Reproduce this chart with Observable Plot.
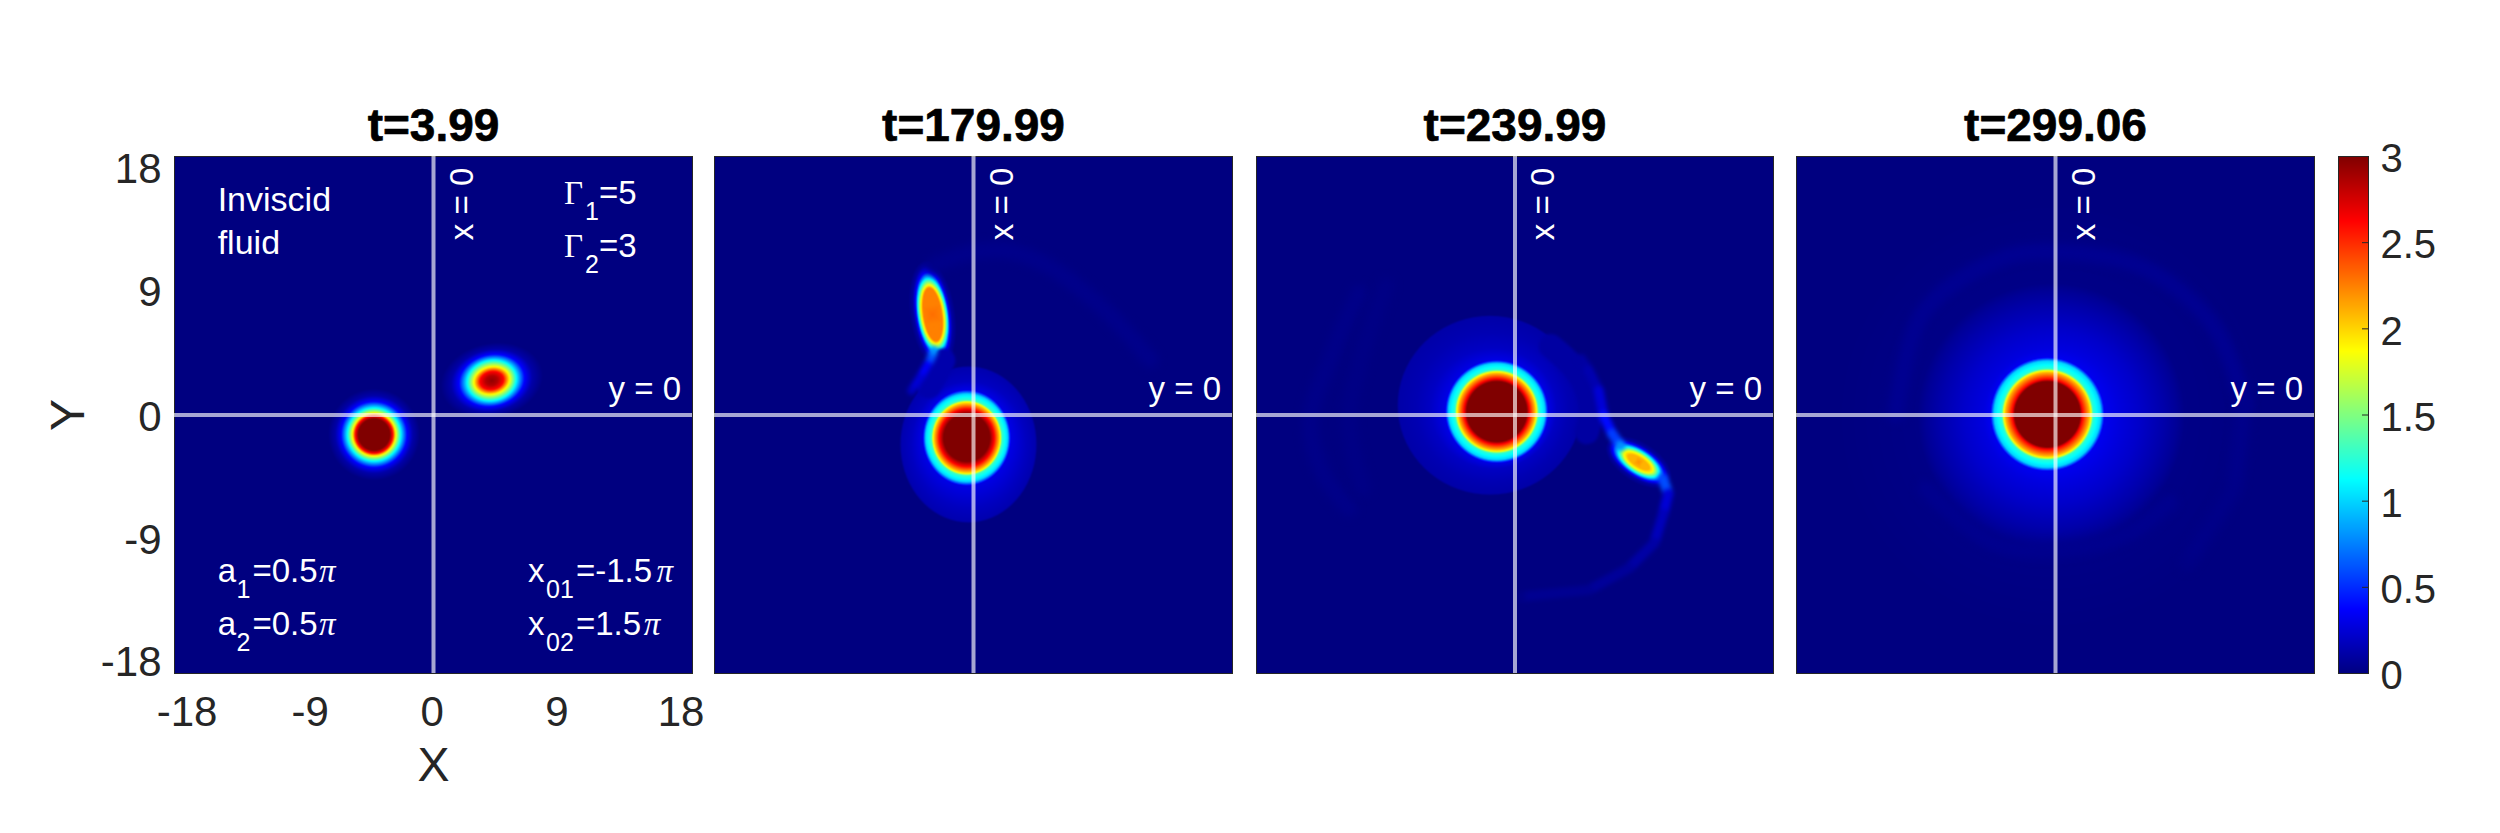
<!DOCTYPE html>
<html><head><meta charset="utf-8">
<script src="https://cdn.jsdelivr.net/npm/d3@7"></script>
<script src="https://cdn.jsdelivr.net/npm/@observablehq/plot@0.6"></script>
<style>
html,body{margin:0;padding:0;background:#fff;width:2500px;height:833px;overflow:hidden}
#stage{position:relative;width:2500px;height:833px}
#stage svg{position:absolute;top:0;overflow:visible;background:transparent}
</style></head><body><div id="stage"></div>
<script>
// colour map stops (value -> jet colour)
const jetValues = [0, 0.375, 1.125, 1.875, 2.625, 3];
const jetColors = ["#000080", "#0000ff", "#00ffff", "#ffff00", "#ff0000", "#800000"];
const titles = ["t=3.99", "t=179.99", "t=239.99", "t=299.06"];

// iso-value rings: [centreX, centreY, radiusA, radiusB, tiltDeg, value]
const rings1 = [
  [-4.13,-1.36,0,0,0,3],[-4.13,-1.36,1.09,1.09,0,3],[-4.13,-1.36,1.3,1.3,0,2.62],[-4.13,-1.36,1.5,1.5,0,1.875],
  [-4.13,-1.36,1.85,1.85,0,1.125],[-4.13,-1.36,2.3,2.3,0,.375],[-4.13,-1.36,2.7,2.7,0,.12],[-4.13,-1.36,3.2,3.2,0,0],
  [4.05,2.4,0,0,12,2.95],[4.05,2.4,.42,.33,12,2.85],[4.05,2.4,.82,.62,12,2.62],[4.05,2.4,1.25,.95,12,1.875],
  [4.05,2.4,1.72,1.4,12,1.125],[4.05,2.4,2.3,1.8,12,.375],[4.05,2.4,2.85,2.15,12,.12],[4.05,2.4,3.6,2.6,12,0]
];
const rings2 = [
  [-.47,-1.59,0,0,0,3],[-.47,-1.59,1.6,1.65,0,3],[-.47,-1.59,1.91,2,0,2.62],[-.47,-1.59,2.22,2.36,0,2.1],
  [-.47,-1.59,2.34,2.5,0,1.875],[-.47,-1.59,2.45,2.62,0,1.3],[-.47,-1.59,2.85,3.05,0,1],[-.47,-1.59,3,3.27,0,.5],[-.47,-1.59,3.06,3.33,0,.3],
  [-.35,-2.05,4,4.4,0,.19],[-.35,-2.05,4.65,5.35,0,.14],[-.35,-2.05,4.8,5.5,0,0],
  [-2.84,7,0,0,-82,2.3],[-2.84,7,1.85,.62,-82,2.25],[-2.84,7,2.05,.78,-82,1.875],[-2.84,7,2.5,.98,-82,1.125],
  [-2.84,7,2.95,1.12,-82,.375],[-2.84,7,3.4,1.3,-82,.1],[-2.84,7,3.8,1.6,-82,0]
];
const rings3 = [
  [-1.27,.235,0,0,0,3],[-1.27,.235,2.09,2.09,0,3],[-1.27,.235,2.28,2.28,0,2.62],[-1.27,.235,2.65,2.65,0,2.1],
  [-1.27,.235,2.77,2.77,0,1.875],[-1.27,.235,2.92,2.92,0,1.25],[-1.27,.235,3.35,3.35,0,1],[-1.27,.235,3.52,3.52,0,.5],[-1.27,.235,3.58,3.58,0,.3],
  [-1.5,.45,4.4,4.2,0,.2],[-1.6,.55,5.3,5.2,0,.15],[-1.74,.68,6.35,6.15,0,.12],[-1.74,.68,6.5,6.3,0,0],
  [8.61,-3.28,0,0,-33,2.2],[8.61,-3.28,.85,.3,-33,2.1],[8.61,-3.28,1.15,.48,-33,1.875],[8.61,-3.28,1.6,.72,-33,1.125],
  [8.61,-3.28,2.05,.92,-33,.375],[8.61,-3.28,2.35,1.1,-33,.1],[8.61,-3.28,2.6,1.4,-33,0]
];
const rings4 = [
  [-.56,.05,0,0,0,3],[-.56,.05,2.28,2.28,0,3],[-.56,.05,2.44,2.44,0,2.62],[-.56,.05,2.9,2.9,0,2.1],[-.56,.05,3.03,3.03,0,1.875],
  [-.56,.05,3.18,3.18,0,1.25],[-.56,.05,3.7,3.7,0,1],[-.56,.05,3.9,3.9,0,.5],[-.56,.05,3.95,3.95,0,.33],
  [-.3,-.1,4.7,4.7,0,.28],[-.3,-.1,6.1,6.1,0,.22],[-.3,-.1,7.75,7.75,0,.13],[-.3,-.1,8.7,8.7,0,.07],[-.3,-.1,9.3,9.3,0,.02],[-.3,-.1,15,15,0,0]
];

// broad, dim sheets beside a filament: [x, y, value]
const sheet2 = [[-3.1,2,.13],[-2.5,3,.13],[-2.1,3.8,.13]];
const sheet3 = [[2.5,4.8,.1],[4,3.4,.1],[4.9,2,.1],[5.3,.3,.1],[5,-1.2,.1]];
// filaments: [x, y, value]
const tail2 = [[-2.75,4.5,.8],[-2.95,3.95,.6],[-3.2,3.5,.35],[-3.7,2.63,.25],[-4.3,1.7,.18]];
const tail3a = [[4.6,3.9,.1],[5.12,3.11,.14],[5.83,1.69,.25],[6.16,-.03,.4],[6.76,-1.29,.55],[7.34,-2.12,.8]];
const tail3b = [[10.3,-4.42,.6],[10.67,-5.47,.25],[10.33,-6.86,.17],[9.7,-8.9,.11],[7.94,-10.66,.075],[5.12,-12.19,.05],[.42,-12.66,.02]];
// faint arcs: [x, y, value]
const arc2 = [[-2.78,10.4,.03],[0,11.34,.03],[2.78,11.34,.03],[5.56,10.16,.03],[8.57,7.81,.03],[10.9,5.46,.03],[12.28,3.81,.03]];
const arc3a = [[-10.86,8.52,.025],[-12.74,4.28,.025],[-14.26,-.42,.025],[-13.44,-3.95,.025],[-11.56,-6.54,.025]];
const arc3b = [[-8.98,9,.015],[-10.6,4.3,.015],[-11.56,-.42,.015],[-10.6,-5.1,.015]];
const arc4a = [[-11.09,.05,.05],[-9.2,7.1,.05],[-3.8,10.87,.05],[.42,11.34,.05],[6.3,10.16,.05],[11,6.16,.05],[13.1,.75,.04]];
const arc4b = [[-9,-5.13,.04],[-4.28,-8.9,.04],[.42,-9.36,.04],[5.12,-8.19,.04],[7.94,-6.07,.04]];
const arc4c = [[13.1,.75,.03],[12.4,-5.13,.025],[9.12,-10.3,.015]];

// tick labels and their read positions
const xTickLabels = ["-18","-9","0","9","18"];
const xTickPlaces = [-17.13,-8.57,-.1,8.58,17.2];
const yTickLabels = ["18","9","0","-9","-18"];
const yTickPlaces = [17.09,8.53,-.17,-8.73,-17.23];
const barTicks = [0,.5,1,1.5,2,2.5,3];

// notes of the first panel: [text, x, y, size, face]
const notes = [
  ["Inviscid",-15,14.19,34,"s"],["fluid",-15,11.24,34,"s"],
  ["Γ",9.07,14.72,33,"r"],["1",10.53,13.61,25,"s"],["=5",11.5,14.72,33,"s"],
  ["Γ",9.07,11.03,33,"r"],["2",10.53,9.92,25,"s"],["=3",11.5,11.03,33,"s"],
  ["a",-15,-11.64,33,"s"],["1",-13.69,-12.77,25,"s"],["=0.5",-12.58,-11.64,33,"s"],["π",-7.96,-11.64,33,"i"],
  ["a",-15,-15.35,33,"s"],["2",-13.69,-16.44,25,"s"],["=0.5",-12.58,-15.35,33,"s"],["π",-7.96,-15.35,33,"i"],
  ["x",6.57,-11.64,33,"s"],["01",7.82,-12.77,25,"s"],["=-1.5",9.9,-11.64,33,"s"],["π",15.5,-11.64,33,"i"],
  ["x",6.57,-15.35,33,"s"],["02",7.82,-16.44,25,"s"],["=1.5",9.9,-15.35,33,"s"],["π",14.61,-15.35,33,"i"]
];

const SANS = "Liberation Sans, Arial, sans-serif", SERIF = "Liberation Serif, Times New Roman, serif";
const colorOpt = {type:"linear", domain:jetValues, range:jetColors, interpolate:"rgb", clamp:true};

// sample each read ring so that the raster can fill between them
function samples(rows){
  const out = [];
  for (const [cx,cy,a,b,tilt,v] of rows){
    const t = tilt*Math.PI/180, n = a===0 ? 1 : 72;
    for (let i=0;i<n;i++){
      const q = 2*Math.PI*i/n, u = a*Math.cos(q), w = b*Math.sin(q);
      out.push({x:cx+u*Math.cos(t)-w*Math.sin(t), y:cy+u*Math.sin(t)+w*Math.cos(t), v});
    }
  }
  for (const x of [-18,0,18]) for (const y of [-18,0,18]) if (x||y) out.push({x,y,v:0});
  return out;
}
const rowsOf = a => a.map(([x,y,v]) => ({x,y,v}));

const panelDefs = [
  {left:174,right:692,rings:rings1,sheets:[],tails:[],arcs:[]},
  {left:714,right:1232,rings:rings2,sheets:[sheet2],tails:[tail2],arcs:[arc2]},
  {left:1256,right:1773,rings:rings3,sheets:[sheet3],tails:[tail3a,tail3b],arcs:[arc3a,arc3b]},
  {left:1796,right:2314,rings:rings4,sheets:[],tails:[],arcs:[arc4a,arc4b,arc4c]}
];
const stage = document.getElementById("stage");

panelDefs.forEach((p,i) => {
  const first = i===0;
  const mL = first ? p.left : 8, mR = 8, w = p.right-p.left;
  const marks = [Plot.raster(samples(p.rings),{x:"x",y:"y",fill:"v",interpolate:"barycentric",x1:-18,x2:18,y1:-18,y2:18,pixelSize:1})];
  p.arcs.forEach(a => marks.push(Plot.line(rowsOf(a),{x:"x",y:"y",z:()=>1,stroke:"v",curve:"catmull-rom",strokeWidth:16,imageFilter:"blur(4px)",clip:true})));
  p.sheets.forEach(a => marks.push(Plot.line(rowsOf(a),{x:"x",y:"y",z:()=>1,stroke:"v",curve:"catmull-rom",strokeWidth:24,imageFilter:"blur(1.5px)",clip:true})));
  p.tails.forEach(a => marks.push(Plot.line(rowsOf(a),{x:"x",y:"y",z:null,stroke:"v",strokeWidth:i===1?8:10,imageFilter:"blur(2px)",clip:true})));
  marks.push(
    Plot.frame({stroke:"#262626",strokeWidth:1}),
    Plot.ruleX([0],{stroke:"white",strokeOpacity:.65,strokeWidth:4}),
    Plot.ruleY([0],{stroke:"white",strokeOpacity:.65,strokeWidth:4}),
    Plot.text(["x = 0"],{x:2.72,y:14.7,text:d=>d,rotate:-90,textAnchor:"middle",lineAnchor:"bottom",fill:"white",fontSize:33,fontFamily:SANS}),
    Plot.text(["y = 0"],{x:17.2,y:1.04,text:d=>d,textAnchor:"end",lineAnchor:"bottom",fill:"white",fontSize:33,fontFamily:SANS}),
    Plot.text([titles[i]],{x:0,y:19.1,text:d=>d,textAnchor:"middle",lineAnchor:"bottom",fill:"black",stroke:"black",strokeWidth:.7,fontSize:46,fontWeight:"bold",fontFamily:SANS})
  );
  if (first){
    for (const [face,family,style] of [["s",SANS,"normal"],["r",SERIF,"normal"],["i",SERIF,"italic"]]){
      marks.push(Plot.text(notes.filter(d=>d[4]===face),{x:d=>d[1],y:d=>d[2],text:d=>d[0],fontSize:d=>d[3],textAnchor:"start",lineAnchor:"bottom",fill:"white",fontFamily:family,fontStyle:style}));
    }
    marks.push(
      Plot.text(xTickLabels,{x:(d,j)=>xTickPlaces[j],y:-18,text:d=>d,dy:39,textAnchor:"middle",fill:"#262626",fontSize:42,fontFamily:SANS}),
      Plot.text(yTickLabels,{x:-18,y:(d,j)=>yTickPlaces[j],text:d=>d,dx:-13,textAnchor:"end",fill:"#262626",fontSize:42,fontFamily:SANS}),
      Plot.text(["X"],{x:0,y:-18,text:d=>d,dy:107,lineAnchor:"bottom",textAnchor:"middle",fill:"#262626",fontSize:48,fontFamily:SANS}),
      Plot.text(["Y"],{x:-18,y:0,text:d=>d,dx:-91,rotate:-90,lineAnchor:"bottom",textAnchor:"middle",fill:"#262626",fontSize:48,fontFamily:SANS})
    );
  }
  const svg = Plot.plot({
    width:w+mL+mR, height:833, marginLeft:mL, marginRight:mR, marginTop:156, marginBottom:160,
    x:{domain:[-18,18],axis:null}, y:{domain:[-18,18],axis:null}, color:colorOpt, marks
  });
  svg.style.left = (p.left-mL)+"px";
  stage.appendChild(svg);
});

const bar = Plot.plot({
  width:172, height:833, marginLeft:10, marginRight:132, marginTop:156, marginBottom:160,
  x:{domain:[0,1],axis:null}, y:{domain:[0,3],axis:null}, color:colorOpt,
  marks:[
    Plot.raster({fill:(x,y)=>y,x1:0,x2:1,y1:0,y2:3,pixelSize:1}),
    Plot.frame({stroke:"#262626",strokeWidth:1}),
    Plot.ruleY(barTicks.slice(1,-1),{x1:.8,x2:1,stroke:"#262626"}),
    Plot.axisY(barTicks,{anchor:"right",tickSize:0,tickPadding:12,dy:3,tickFormat:String,fontSize:40,fontFamily:SANS,color:"#262626",label:null})
  ]
});
bar.style.left = "2328px";
stage.appendChild(bar);
</script></body></html>
